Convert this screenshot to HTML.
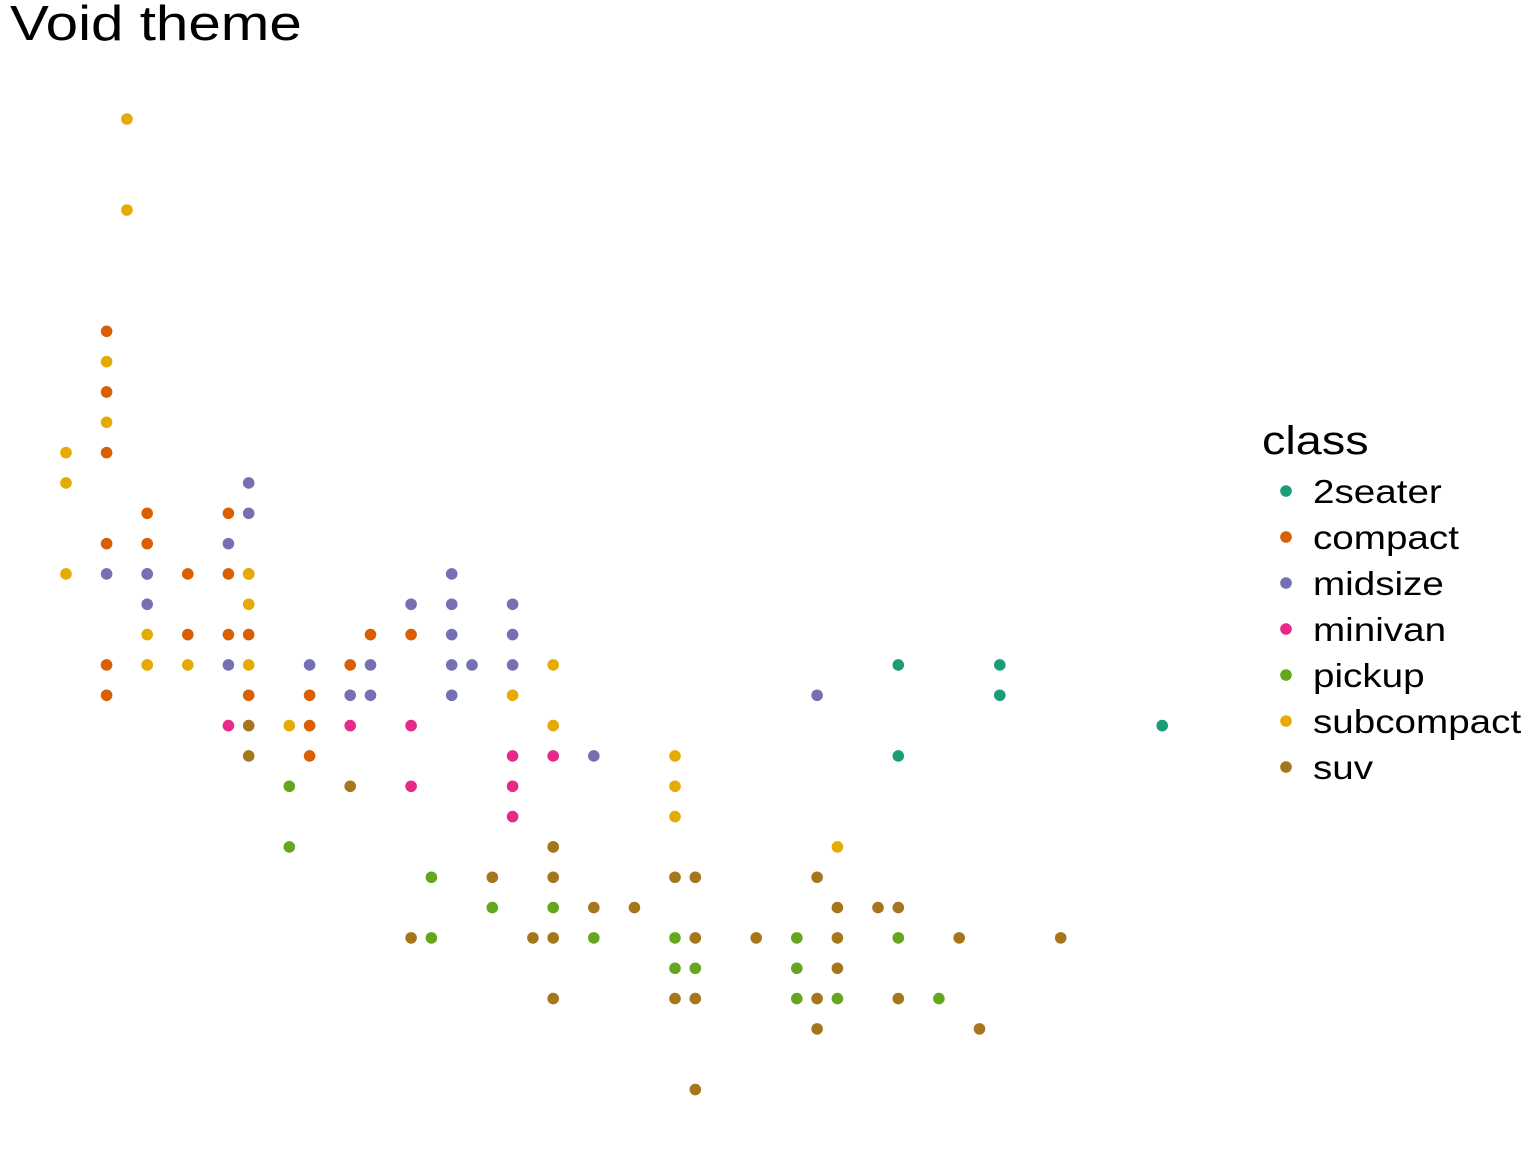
<!DOCTYPE html>
<html><head><meta charset="utf-8">
<style>
html,body{margin:0;padding:0;background:#fff;}
svg{display:block;font-family:"Liberation Sans",Arial,sans-serif;}
</style></head>
<body>
<svg id="chart" width="1536" height="1152">
<text id="title" x="10" y="40" font-size="49" fill="#000">Void theme</text>
<g id="points"></g>
<g id="legend">
<text id="ltitle" x="1262" y="454" font-size="40" fill="#000">class</text>
</g>
</svg>
<script>
const classes = ["2seater","compact","midsize","minivan","pickup","subcompact","suv"];
const colors = ["#1B9E77","#D95F02","#7570B3","#E7298A","#66A61E","#E6AB02","#A6761D"];
const twoseaterX = [5.7,6.2,6.2,7.0,5.7];
const twoseaterY = [26,26,25,24,23];
const compactX = [1.8,1.8,1.8,2.0,2.4,1.8,2.0,2.0,2.2,2.4,2.5,2.2,2.4,2.5,3.1,3.3,1.8,3.0,1.8,2.5,2.8,2.8,2.8];
const compactY = [37,35,33,31,31,30,30,29,29,29,29,27,27,27,27,27,26,26,25,25,25,24,23];
const midsizeX = [2.5,2.5,2.4,1.8,2.0,3.5,2.0,3.3,3.5,3.8,3.5,3.8,2.4,2.8,3.1,3.5,3.6,3.8,3.0,3.1,3.5,5.3,4.2];
const midsizeY = [32,31,30,29,29,29,28,28,28,28,27,27,26,26,26,26,26,26,25,25,25,25,23];
const minivanX = [2.4,3.0,3.3,3.8,4.0,3.3,3.8,3.8];
const minivanY = [24,24,24,23,23,22,22,21];
const pickupX = [2.7,2.7,4.0,3.4,3.7,4.0,3.4,4.2,4.6,5.2,5.7,4.6,4.7,5.2,5.2,5.4,5.9];
const pickupY = [22,20,20,19,18,18,17,17,17,17,17,16,16,16,15,15,15];
const subcompactX = [1.9,1.9,1.8,1.8,1.6,1.6,1.6,2.5,2.5,2.0,2.0,2.0,2.2,2.5,2.7,3.8,4.0,4.0,4.6,4.6,4.6,5.4];
const subcompactY = [44,41,36,34,33,32,29,29,28,27,26,26,26,26,24,25,26,24,23,22,21,20];
const suvX = [2.5,2.5,3.0,4.0,3.7,4.0,4.6,4.7,5.3,4.2,4.4,5.4,5.6,5.7,3.3,3.9,4.0,4.7,5.0,5.4,6.0,6.5,5.4,4.0,4.6,4.7,5.3,5.7,5.3,6.1,4.7];
const suvY = [24,23,22,20,19,19,19,19,19,18,18,18,18,18,17,17,17,17,17,17,17,17,16,15,15,15,15,15,14,14,12];
const seriesX = [twoseaterX,compactX,midsizeX,minivanX,pickupX,subcompactX,suvX];
const seriesY = [twoseaterY,compactY,midsizeY,minivanY,pickupY,subcompactY,suvY];

const NS = "http://www.w3.org/2000/svg";
function xScale(d){ return 66 + (d - 1.6) * 203; }
function yScale(h){ return 119 + (44 - h) * 30.33; }
function widen(t, f){
  const w = t.getComputedTextLength();
  t.setAttribute("textLength", w * f);
  t.setAttribute("lengthAdjust", "spacingAndGlyphs");
}

const g = document.getElementById("points");
for (let s = 0; s < classes.length; s++) {
  const xs = seriesX[s], ys = seriesY[s];
  for (let i = 0; i < xs.length; i++) {
    const c = document.createElementNS(NS, "circle");
    c.setAttribute("cx", xScale(xs[i]));
    c.setAttribute("cy", yScale(ys[i]));
    c.setAttribute("r", 5.8);
    c.setAttribute("fill", colors[s]);
    
    
    g.appendChild(c);
  }
}
const lg = document.getElementById("legend");
for (let s = 0; s < classes.length; s++) {
  const y = 491 + s * 46;
  const c = document.createElementNS(NS, "circle");
  c.setAttribute("cx", 1286); c.setAttribute("cy", y); c.setAttribute("r", 5.8);
  c.setAttribute("fill", colors[s]);
  
  
  lg.appendChild(c);
  const t = document.createElementNS(NS, "text");
  t.setAttribute("x", 1313); t.setAttribute("y", y + 12);
  t.setAttribute("font-size", "33");
  t.textContent = classes[s];
  
  
  lg.appendChild(t);
  widen(t, 1.17);
}
widen(document.getElementById("title"), 1.19);
widen(document.getElementById("ltitle"), 1.17);
</script>
</body></html>
